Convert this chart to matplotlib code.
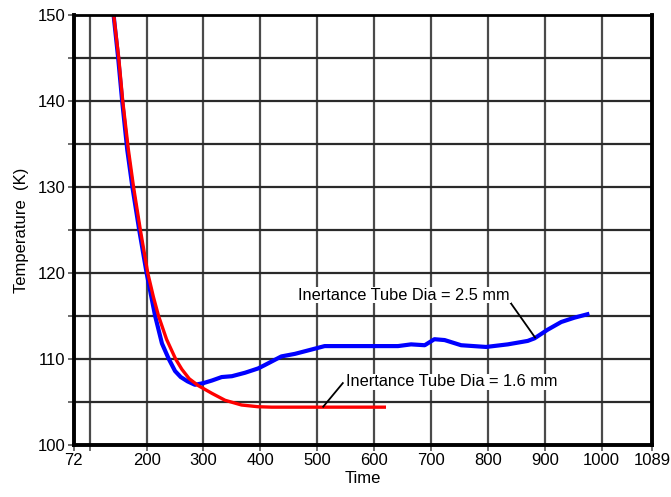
import matplotlib
matplotlib.use("Agg")
import matplotlib.pyplot as plt

plt.rcParams['font.family'] = ['Liberation Sans', 'DejaVu Sans']

# Data
red_x = [140, 151, 158, 168, 177, 189, 202, 212, 221, 235, 251, 262, 275, 291, 315, 338, 367, 396, 420, 470, 525, 570, 618]
red_y = [151.2, 145, 140, 134.3, 130, 125, 120, 117.2, 115, 112.3, 110, 108.8, 107.7, 106.9, 106.0, 105.2, 104.65, 104.45, 104.4, 104.4, 104.4, 104.4, 104.4]

blue_x = [140, 150, 157, 166, 175, 187, 200, 215, 227, 239, 250, 260, 272, 285, 300, 315, 332, 350, 373, 396, 408, 437, 461, 490, 513, 560, 595, 642, 665, 689, 706, 724, 753, 797, 835, 870, 882, 905, 929, 952, 975]
blue_y = [151.2, 145, 140, 134.3, 130, 125, 120, 115, 111.8, 110, 108.6, 107.9, 107.4, 107.0, 107.2, 107.5, 107.9, 108.0, 108.4, 108.9, 109.3, 110.3, 110.6, 111.1, 111.5, 111.5, 111.5, 111.5, 111.7, 111.6, 112.3, 112.2, 111.6, 111.4, 111.7, 112.1, 112.4, 113.4, 114.3, 114.8, 115.2]

x_ticks = [72, 100, 200, 300, 400, 500, 600, 700, 800, 900, 1000, 1089]
x_labels = ['72', '', '200', '300', '400', '500', '600', '700', '800', '900', '1000', '1089']
y_major = [100, 110, 120, 130, 140, 150]
y_minor = [105, 115, 125, 135, 145]
x_grid = [100, 200, 300, 400, 500, 600, 700, 800, 900, 1000]
y_grid = [105, 110, 115, 120, 125, 130, 135, 140, 145]

fig = plt.figure(figsize=(6.71, 4.97), dpi=100)
ax = fig.add_axes([0.110, 0.1046, 0.862, 0.8654])
ax.set_xlim(72, 1089)
ax.set_ylim(100, 150)

for gx in x_grid:
    ax.axvline(gx, color='#4a4a4a', lw=1.6, zorder=1)
for gy in y_grid:
    ax.axhline(gy, color='#2a2a2a', lw=1.6, zorder=1)

ax.plot(blue_x, blue_y, color='#0000ff', lw=3.0, zorder=3, solid_joinstyle='round')
ax.plot(red_x, red_y, color='#ff0000', lw=2.4, zorder=4, solid_joinstyle='round')

# Annotations
box = dict(facecolor='white', edgecolor='none', pad=0.5)
ax.plot([836, 883], [116.9, 112.5], color='black', lw=1.3, zorder=5)
ax.text(467, 117.4, 'Inertance Tube Dia = 2.5 mm', fontsize=11.8, va='center', ha='left', zorder=6, bbox=box)
ax.plot([510.5, 545], [104.45, 107.2], color='black', lw=1.3, zorder=5)
ax.text(551, 107.35, 'Inertance Tube Dia = 1.6 mm', fontsize=11.8, va='center', ha='left', zorder=6, bbox=box)

ax.set_xticks(x_ticks)
ax.set_xticklabels(x_labels)
ax.set_yticks(y_major)
ax.set_yticks(y_minor, minor=True)
ax.tick_params(axis='both', which='both', direction='out', length=4, width=1.2, color='#555555', labelsize=12, pad=2)

for side in ['left', 'right', 'bottom']:
    ax.spines[side].set_linewidth(2.8)
    ax.spines[side].set_color('black')
ax.spines['top'].set_linewidth(2.0)
ax.spines['top'].set_color('black')
for s in ax.spines.values():
    s.set_zorder(7)

ax.set_xlabel('Time', fontsize=12, labelpad=2)
ax.set_ylabel('Temperature  (K)', fontsize=12, labelpad=6)

fig.savefig('out.png', dpi=100)
